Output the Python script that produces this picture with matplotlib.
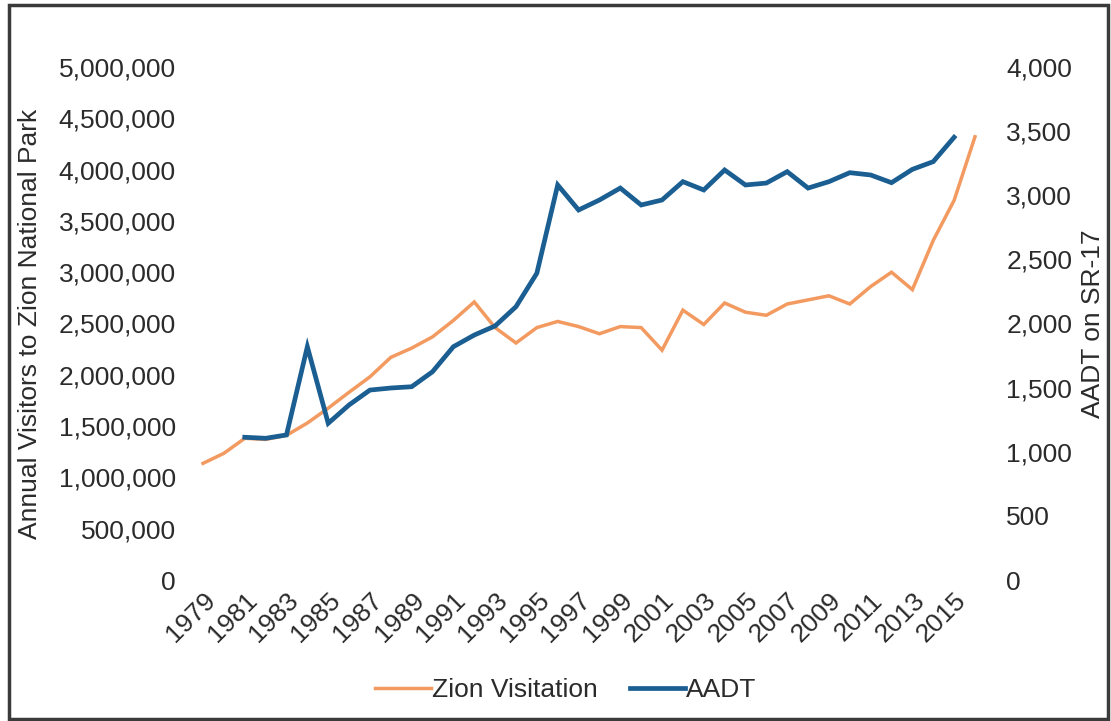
import matplotlib
matplotlib.use("Agg")
import matplotlib.pyplot as plt
from matplotlib.patches import Rectangle
from matplotlib.ticker import FuncFormatter
import numpy as np

# data
years = list(range(1979, 2017))
zion_visitation = [
    1137000, 1235000, 1381000, 1370000, 1410000, 1530000, 1675000, 1830000,
    1980000, 2170000, 2260000, 2370000, 2530000, 2710000, 2460000, 2310000,
    2460000, 2520000, 2470000, 2400000, 2470000, 2460000, 2240000, 2630000,
    2490000, 2700000, 2610000, 2580000, 2690000, 2730000, 2770000, 2690000,
    2860000, 3000000, 2830000, 3310000, 3700000, 4320000,
]
aadt_years = list(range(1981, 2016))
aadt = [
    1113, 1105, 1131, 1819, 1222, 1365, 1481, 1497, 1507, 1624, 1819, 1910,
    1981, 2131, 2392, 3080, 2885, 2963, 3056, 2924, 2963, 3106, 3041, 3197,
    3080, 3095, 3184, 3056, 3106, 3176, 3158, 3098, 3202, 3262, 3452,
]
tick_years = list(range(1979, 2016, 2))

ORANGE = '#F29A60'
BLUE = '#1B5E92'
TEXT = '#2b2b2b'
FS = 19

plt.rcParams['font.family'] = ['Liberation Sans', 'DejaVu Sans']
plt.rcParams['font.size'] = FS
plt.rcParams['text.color'] = TEXT

fig = plt.figure(figsize=(11.11, 7.21), dpi=100)
ax = fig.add_axes([192.6 / 1111, 141 / 721, 792.8 / 1111, 513 / 721])
ax2 = ax.twinx()

line1, = ax.plot(years, zion_visitation, color=ORANGE, lw=2.5,
                 label='Zion Visitation', solid_joinstyle='miter')
line2, = ax2.plot(aadt_years, aadt, color=BLUE, lw=3.4, label='AADT',
                  solid_joinstyle='miter')

ax.set_xlim(1978.5, 2016.5)
ax.set_ylim(0, 5_000_000)
ax2.set_ylim(0, 4000)
ax.set_yticks(np.arange(0, 5_000_001, 500_000))
ax2.set_yticks(np.arange(0, 4001, 500))
ax.yaxis.set_major_formatter(FuncFormatter(lambda v, p: f'{int(v):,}'))
ax2.yaxis.set_major_formatter(FuncFormatter(lambda v, p: f'{int(v):,}'))
ax.set_xticks(tick_years)
ax.set_xticklabels([str(y) for y in tick_years], rotation=45, ha='right',
                   rotation_mode='anchor')

for a in (ax, ax2):
    for s in a.spines.values():
        s.set_visible(False)
    a.tick_params(length=0, colors=TEXT, labelsize=FS)
ax.tick_params(axis='y', pad=12)
ax2.tick_params(axis='y', pad=15)
ax.tick_params(axis='x', pad=6)

ax.set_ylabel('Annual Visitors to Zion National Park', fontsize=FS,
              color=TEXT)
ax.yaxis.set_label_coords(-0.19, 0.5)
ax2.set_ylabel('AADT on SR-17', fontsize=FS, color=TEXT, rotation=90)
ax2.yaxis.set_label_coords(1.12, 0.5)

fig.legend(handles=[line1, line2], loc='center', ncol=2, frameon=False,
           bbox_to_anchor=(566 / 1111, 1 - 690 / 721), handlelength=2.1,
           handletextpad=0.05, columnspacing=1.2, fontsize=FS)

fig.patches.append(Rectangle((9 / 1111, 1 - 719 / 721), 1099 / 1111,
                             714 / 721, transform=fig.transFigure,
                             fill=False, edgecolor='#3a3a3a', lw=2.5))

fig.savefig('out.png', dpi=100)
